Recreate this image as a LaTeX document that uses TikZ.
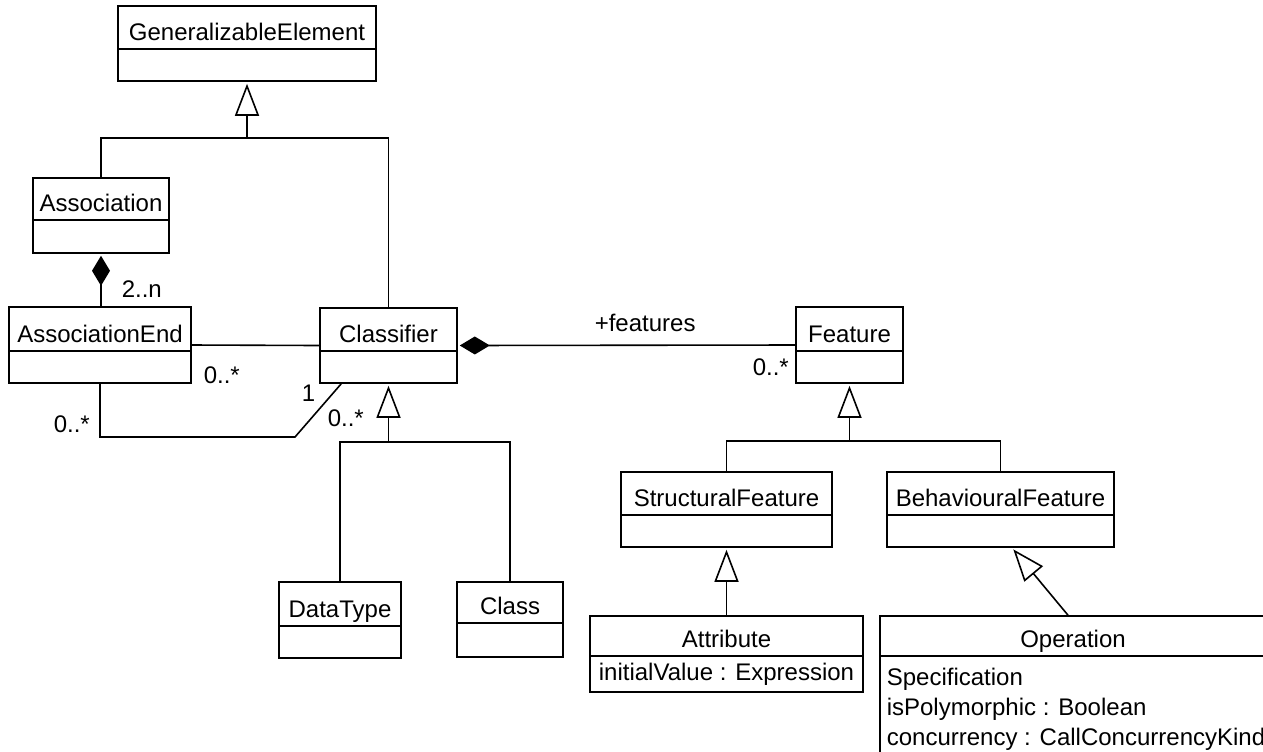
\documentclass[tikz,border=0pt]{standalone}
\usepackage{fontspec}
\setmainfont{Liberation Sans}
\usetikzlibrary{arrows.meta,fit}

% A UML class box: name, left, top, right, divider, bottom, title
\newcommand{\umlclass}[7]{%
  \node[classbox, fit={(#2,#3) (#4,#6)}] (#1) {};
  \draw (#2,#5) -- (#4,#5);
  \node[ctitle] (#1-title) at ({(#2+#4)/2},#5-9) {#7};
}

\begin{document}
\begin{tikzpicture}[x=0.5pt,y=-0.5pt,line width=0.8pt,
  every node/.style={font=\fontsize{12}{14}\selectfont},
  classbox/.style={draw,rectangle,inner sep=0pt},
  ctitle/.style={anchor=base,inner sep=0pt},
  attr/.style={anchor=base west,inner sep=0pt},
  mult/.style={anchor=base west,inner sep=0pt},
  gen/.style={-{Triangle[open,length=16pt,width=12pt]},shorten >=1pt},
  comp/.style={-{Diamond[length=15pt,width=9pt]},shorten >=1pt}]

\useasboundingbox (0,0) rectangle (1263,751);
\clip (0,0) rectangle (1263,751);

% classes
\umlclass{ge}{118}{6}{376}{49}{81}{GeneralizableElement}
\umlclass{assoc}{33}{178}{169}{220}{253}{Association}
\umlclass{aend}{9}{307}{191}{351}{383}{AssociationEnd}
\umlclass{classifier}{320}{308}{457}{351}{383}{Classifier}
\umlclass{feature}{796}{307}{903}{351}{383}{Feature}
\umlclass{datatype}{279}{582}{401}{626}{658}{DataType}
\umlclass{class}{457}{582}{563}{623}{657}{Class}
\umlclass{structural}{621}{472}{832}{515}{547}{StructuralFeature}
\umlclass{behavioural}{887}{472}{1114}{515}{547}{BehaviouralFeature}
\umlclass{attribute}{590}{616}{863}{656}{692}{Attribute}
\umlclass{operation}{880}{616}{1266}{656}{760}{Operation}

% attributes
\node[ctitle] (attrval) at (726.5,680) {initialValue : Expression};
\node[attr] (opspec) at (886,685) {Specification};
\node[attr] (oppoly) at (886,715) {isPolymorphic : Boolean};
\node[attr] (opconc) at (886,745) {concurrency : CallConcurrencyKind};

% generalizations
\coordinate (geJoin) at (247,138);
\draw (assoc.north) |- (geJoin) -| (classifier.north);
\draw[gen] (geJoin) -- (ge.south);

\coordinate (clsJoin) at (388.5,442);
\draw (datatype.north) |- (clsJoin) -| (class.north);
\draw[gen] (clsJoin) -- (classifier.south);

\coordinate (featJoin) at (849.5,441);
\draw (structural.north) |- (featJoin) -| (behavioural.north);
\draw[gen] (featJoin) -- (feature.south);

\draw[gen] (attribute.north) -- (structural.south);
\draw[gen] ([xshift=-2.5pt]operation.north) -- ([xshift=5.75pt]behavioural.south);

% compositions and associations
\draw[comp] (aend.north -| assoc.south) -- (assoc.south);
\draw[comp] (feature.west) -- (classifier.east);
\draw (aend.east) -- (classifier.west);
\coordinate (selfBend) at (295,437);
\draw (aend.south) |- (selfBend) -- ([xshift=11pt]classifier.south west);

% multiplicities and role names
\node[mult] (m2n) at (121,297) {2..n};
\node[mult] (mAE) at (203,383) {0..*};
\node[mult] (m1) at (301,401) {1};
\node[mult] (mSelf) at (53,432) {0..*};
\node[mult] (mCls) at (327,426) {0..*};
\node[mult] (mFeat) at (594,331) {+features};
\node[mult] (mFeatMult) at (752,375) {0..*};

\end{tikzpicture}
\end{document}
